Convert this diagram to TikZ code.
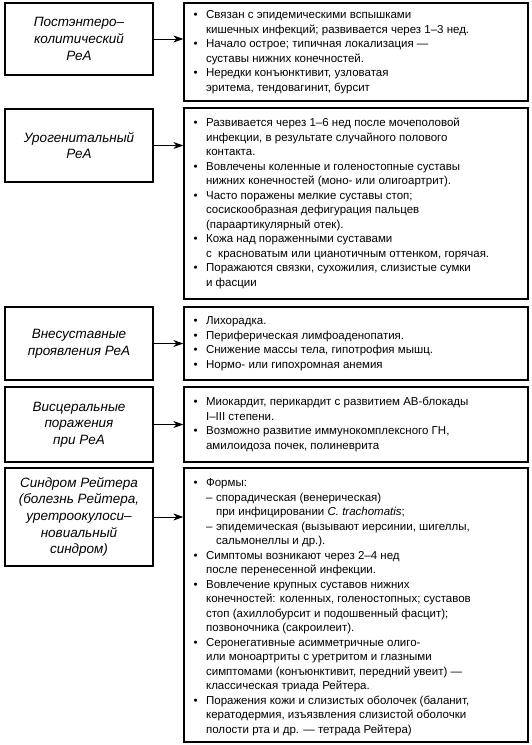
\documentclass[tikz,border=0pt]{standalone}
\usepackage{fontspec}
\setmainfont{Liberation Sans}
\usetikzlibrary{arrows.meta}
\newcommand{\bl}{\makebox[12.5pt][l]{\textbullet}}
\newcommand{\cn}{\hspace*{12.5pt}}
\newcommand{\ds}{\hspace*{12.5pt}\makebox[10pt][l]{–}}
\newcommand{\cd}{\hspace*{22.5pt}}
\tikzset{
  lbox/.style={draw, line width=1.2pt, minimum width=148pt, align=center,
    font=\fontsize{13.5}{16.7}\selectfont\itshape, inner sep=0pt},
  rbox/.style={draw, line width=1.2pt, minimum width=344pt, inner sep=0pt},
  rtext/.style={anchor=west, align=left, inner sep=0pt, xshift=10pt,
    font=\fontsize{11.5}{14.5}\selectfont},
  arr/.style={line width=1pt, -{Stealth[length=10pt,width=7pt,inset=3pt]}}
}
\begin{document}
\begin{tikzpicture}[x=1pt,y=-1pt]
\useasboundingbox (0,0) rectangle (531,745);
% row 1
\node[lbox, minimum height=72pt] (l1) at (79,39) {Постэнтеро–\\колитический\\РеА};
\node[rbox, minimum height=98pt] (r1) at (356,52) {};
\node[rtext] (t1) at (r1.west) {\bl Связан с эпидемическими вспышками\\
\cn кишечных инфекций; развивается через 1–3 нед.\\
\bl Начало острое; типичная локализация —\\
\cn суставы нижних конечностей.\\
\bl Нередки конъюнктивит, узловатая\\
\cn эритема, тендовагинит, бурсит};
% row 2
\node[lbox, minimum height=73pt] (l2) at (79,145.5) {Урогенитальный\\РеА};
\node[rbox, minimum height=191pt] (r2) at (356,203.5) {};
\node[rtext] (t2) at (r2.west) {\bl Развивается через 1–6 нед после мочеполовой\\
\cn инфекции, в результате случайного полового\\
\cn контакта.\\
\bl Вовлечены коленные и голеностопные суставы\\
\cn нижних конечностей (моно- или олигоартрит).\\
\bl Часто поражены мелкие суставы стоп;\\
\cn сосискообразная дефигурация пальцев\\
\cn (параартикулярный отек).\\
\bl Кожа над пораженными суставами\\
\cn с\ \ красноватым или цианотичным оттенком, горячая.\\
\bl Поражаются связки, сухожилия, слизистые сумки\\
\cn и фасции};
% row 3
\node[lbox, minimum height=73pt] (l3) at (79,343.5) {Внесуставные\\проявления РеА};
\node[rbox, minimum height=73pt] (r3) at (356,343.5) {};
\node[rtext] (t3) at (r3.west) {\bl Лихорадка.\\
\bl Периферическая лимфоаденопатия.\\
\bl Снижение массы тела, гипотрофия мышц.\\
\bl Нормо- или гипохромная анемия};
% row 4
\node[lbox, minimum height=75pt] (l4) at (79,424.5) {Висцеральные\\поражения\\при РеА};
\node[rbox, minimum height=75pt] (r4) at (356,424.5) {};
\node[rtext] (t4) at (r4.west) {\bl Миокардит, перикардит с развитием АВ-блокады\\
\cn I–III степени.\\
\bl Возможно развитие иммунокомплексного ГН,\\
\cn амилоидоза почек, полиневрита};
% row 5
\node[lbox, minimum height=98pt] (l5) at (79,517) {Синдром Рейтера\\(болезнь Рейтера,\\уретроокулоси–\\новиальный\\синдром)};
\node[rbox, minimum height=274pt] (r5) at (356,605) {};
\node[rtext, yshift=-2pt] (t5) at (r5.west) {\bl Формы:\\
\ds спорадическая (венерическая)\\
\cd при инфицировании \textit{C. trachomatis};\\
\ds эпидемическая (вызывают иерсинии, шигеллы,\\
\cd сальмонеллы и др.).\\
\bl Симптомы возникают через 2–4 нед\\
\cn после перенесенной инфекции.\\
\bl Вовлечение крупных суставов нижних\\
\cn конечностей: коленных, голеностопных; суставов\\
\cn стоп (ахиллобурсит и подошвенный фасцит);\\
\cn позвоночника (сакроилеит).\\
\bl Серонегативные асимметричные олиго-\\
\cn или моноартриты с уретритом и глазными\\
\cn симптомами (конъюнктивит, передний увеит) —\\
\cn классическая триада Рейтера.\\
\bl Поражения кожи и слизистых оболочек (баланит,\\
\cn кератодермия, изъязвления слизистой оболочки\\
\cn полости рта и др. — тетрада Рейтера)};
% arrows
\foreach \i in {1,...,5}{
  \draw[arr] (l\i.east) -- (l\i.east -| r\i.west);
}
\end{tikzpicture}
\end{document}
